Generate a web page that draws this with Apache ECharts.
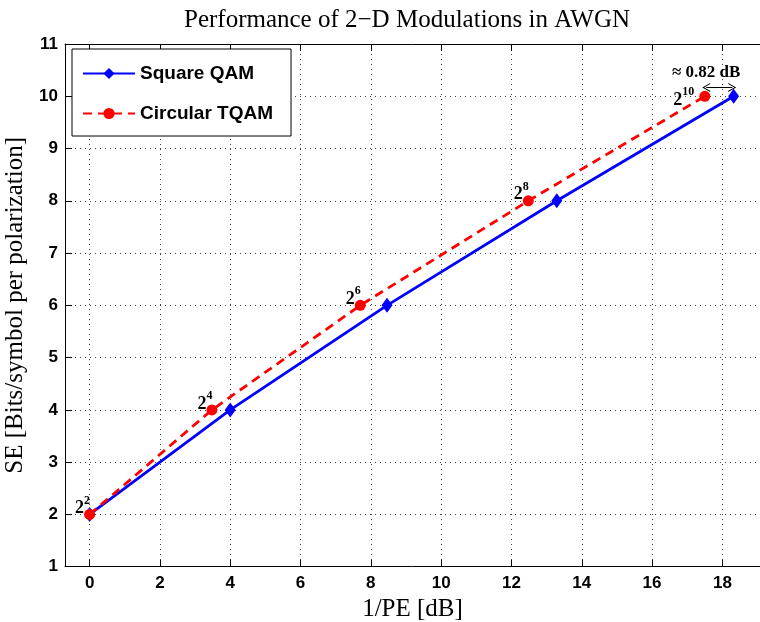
<!DOCTYPE html>
<html>
<head>
<meta charset="utf-8">
<script src="https://cdn.jsdelivr.net/npm/echarts@6/dist/echarts.min.js"></script>
<style>
  html, body { margin: 0; padding: 0; background: #fff; }
  #chart { width: 760px; height: 622px; }
</style>
</head>
<body>
<div id="chart"></div>
<script>
// Spectral efficiency (bits/symbol per polarization) vs required 1/PE in dB
const seLevels   = [2, 4, 6, 8, 10];
const squareQam  = [0, 4.0, 8.46, 13.29, 18.32];
const circTqam   = [0, 3.48, 7.70, 12.48, 17.50];
const orderExps  = ['2', '4', '6', '8', '10'];   // constellation size 2^k
const gapLabel   = '≈ 0.82 dB';
const gapLevel   = 10.17;

const sansBold = { fontFamily: 'Liberation Sans', fontWeight: 'bold', color: '#000' };
const serif = 'Liberation Serif';

const pairs = (xs) => xs.map((x, i) => [x, seLevels[i]]);

const tqamPoints = circTqam.map((x, i) => {
  const last = i === circTqam.length - 1;
  return {
    value: [x, seLevels[i]],
    label: {
      show: true,
      position: 'left',
      distance: 0,
      offset: last ? [-5, 1.5] : [6, -8.5],
      formatter: '{b|2}{s|' + orderExps[i] + '}',
      rich: {
        b: { fontFamily: serif, fontWeight: 'bold', fontSize: 18, color: '#000', lineHeight: 23, verticalAlign: 'bottom' },
        s: { fontFamily: serif, fontWeight: 'bold', fontSize: 12, color: '#000', lineHeight: 12, verticalAlign: 'top' }
      }
    }
  };
});

const chevron = 'path://M0,10 L5,0 L10,10 L8.8,10 L5,2.4 L1.2,10 Z';

const chart = echarts.init(document.getElementById('chart'), null, { renderer: 'canvas' });
chart.setOption({
  animation: false,
  backgroundColor: '#fff',
  title: {
    text: 'Performance of 2\u2212D Modulations in AWGN',
    left: 402, top: 3, textAlign: 'center',
    textStyle: { fontFamily: serif, fontWeight: 'normal', fontSize: 25, color: '#000' }
  },
  legend: {
    orient: 'vertical',
    left: 72, top: 49,
    backgroundColor: '#fff',
    borderColor: '#000', borderWidth: 1, borderRadius: 0,
    padding: [15, 18, 13, 10],
    itemWidth: 52, itemHeight: 14, itemGap: 21,
    textStyle: Object.assign({ fontSize: 19 }, sansBold),
    data: ['Square QAM', 'Circular TQAM']
  },
  grid: { left: 65, top: 44, right: 0, bottom: 55.3, containLabel: false, outerBoundsMode: 'none' },
  xAxis: [{
    type: 'value', min: -0.7, max: 19.07, splitNumber: 10,
    name: '1/PE [dB]', nameLocation: 'middle', nameGap: 25,
    nameTextStyle: { fontFamily: serif, fontSize: 25, color: '#000' },
    axisLine: { onZero: false, lineStyle: { color: '#000', width: 1 } },
    axisTick: { inside: true, length: 7, lineStyle: { color: '#000' } },
    axisLabel: Object.assign({ fontSize: 17, margin: 8, showMinLabel: false, showMaxLabel: false,
      formatter: (v) => (Number.isInteger(v) ? String(v) : '') }, sansBold),
    splitLine: { show: true, lineStyle: { color: '#444', type: [1, 4], width: 1 } }
  }, {
    type: 'value', position: 'top', min: -0.7, max: 19.07, splitNumber: 10,
    axisLine: { onZero: false, lineStyle: { color: '#000', width: 1 } },
    axisTick: { inside: true, length: 7, lineStyle: { color: '#000' } },
    axisLabel: { show: false },
    splitLine: { show: false }
  }],
  yAxis: {
    type: 'value', min: 1, max: 11, interval: 1,
    name: 'SE [Bits/symbol per polarization]', nameLocation: 'middle', nameGap: 30, nameRotate: 90,
    nameTextStyle: { fontFamily: serif, fontSize: 25, color: '#000' },
    axisLine: { show: true, onZero: false, lineStyle: { color: '#000', width: 1 } },
    axisTick: { show: true, inside: true, length: 7, lineStyle: { color: '#000' } },
    axisLabel: Object.assign({ fontSize: 17, margin: 7 }, sansBold),
    splitLine: { show: true, lineStyle: { color: '#444', type: [1, 4], width: 1 } }
  },
  series: [{
    name: 'Square QAM',
    type: 'line',
    data: pairs(squareQam),
    symbol: 'diamond', symbolSize: [11, 15],
    itemStyle: { color: '#0000ff' },
    lineStyle: { color: '#0000ff', width: 2.8 },
    z: 2,
    markLine: {
      silent: true,
      symbol: [chevron, chevron], symbolSize: [9, 8],
      lineStyle: { color: '#000', width: 1, type: 'solid' },
      label: {
        show: true, position: 'middle', formatter: gapLabel, distance: 6, offset: [-13, 0],
        fontFamily: serif, fontWeight: 'bold', fontSize: 17, color: '#000'
      },
      data: [[{ coord: [circTqam[4] + 0.04, gapLevel] }, { coord: [squareQam[4] - 0.04, gapLevel] }]]
    }
  }, {
    name: 'Circular TQAM',
    type: 'line',
    data: tqamPoints,
    symbol: 'circle', symbolSize: 11,
    itemStyle: { color: '#ff0000' },
    lineStyle: { color: '#ff0000', width: 2.8, type: [9, 6] },
    z: 3
  }]
});
</script>
</body>
</html>
